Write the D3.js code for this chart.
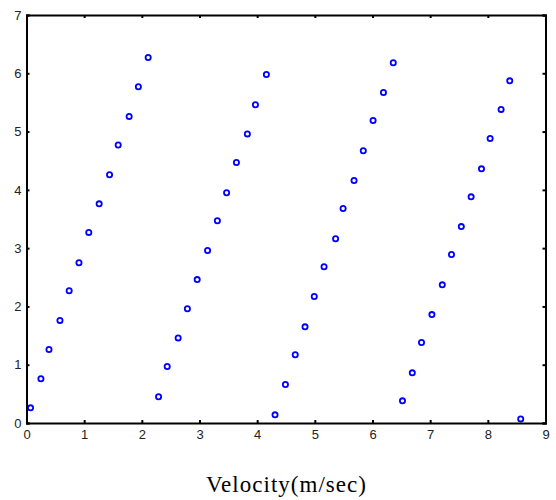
<!DOCTYPE html>
<html><head><meta charset="utf-8">
<script src="https://cdn.jsdelivr.net/npm/d3@7"></script>
<style>body{margin:0;background:#fff}svg{display:block}</style>
</head><body>
<svg id="c" width="556" height="500"></svg>
<script>
const velocity = [
  0.07,0.25,0.39,0.58,0.74,0.91,1.08,1.26,1.44,1.59,1.78,1.94,2.11,
  2.29,2.44,2.63,2.79,2.96,3.14,3.31,3.47,3.64,3.83,3.97,4.16,
  4.31,4.49,4.66,4.83,4.99,5.16,5.36,5.49,5.68,5.84,6.01,6.19,6.36,
  6.52,6.69,6.85,7.03,7.21,7.37,7.54,7.71,7.89,8.04,8.23,8.38,8.57
];
const values = [
  0.26,0.76,1.26,1.76,2.27,2.75,3.27,3.76,4.26,4.77,5.26,5.77,6.27,
  0.45,0.97,1.46,1.96,2.46,2.96,3.47,3.95,4.47,4.96,5.46,5.98,
  0.14,0.66,1.17,1.65,2.17,2.68,3.16,3.68,4.16,4.67,5.19,5.67,6.18,
  0.38,0.86,1.38,1.86,2.37,2.89,3.37,3.88,4.36,4.88,5.38,5.87,0.07
];
const xTicks = [0,1,2,3,4,5,6,7,8,9];
const yTicks = [0,1,2,3,4,5,6,7];
const xLabel = "Velocity(m/sec)";

(function(){
const svg = d3.select("#c");
const L = 26.5, R = 545.5, T = 15, B = 423;
const x = d3.scaleLinear().domain([0,9]).range([L,R]);
const y = d3.scaleLinear().domain([0,7]).range([B,T]);
const font = "'Liberation Sans', Arial, sans-serif";

// markers
svg.append("g").selectAll("circle").data(velocity).join("circle")
  .attr("cx", d => x(d)).attr("cy", (d,i) => y(values[i]))
  .attr("r", 2.6).attr("fill", "none").attr("stroke", "#0000ff").attr("stroke-width", 1.8);

// axes
const tl = 3;
const gBottom = svg.append("g").attr("transform", `translate(0,${B})`)
  .call(d3.axisBottom(x).tickValues(xTicks).tickSize(-tl).tickPadding(7).tickFormat(d3.format("d")));
const gTop = svg.append("g").attr("transform", `translate(0,${T})`)
  .call(d3.axisTop(x).tickValues(xTicks).tickSize(-tl).tickFormat(""));
const gLeft = svg.append("g").attr("transform", `translate(${L},0)`)
  .call(d3.axisLeft(y).tickValues(yTicks).tickSize(-tl).tickPadding(5).tickFormat(d3.format("d")));
const gRight = svg.append("g").attr("transform", `translate(${R},0)`)
  .call(d3.axisRight(y).tickValues(yTicks).tickSize(-tl).tickFormat(""));
[gBottom, gTop, gLeft, gRight].forEach(g => {
  g.select(".domain").attr("stroke", "#000").attr("stroke-width", 2);
  g.selectAll(".tick line").attr("stroke", "#000").attr("stroke-width", 2);
  g.selectAll("text").attr("font-family", font).attr("font-size", 13).attr("fill", "#222");
});

svg.append("text").attr("x", 286).attr("y", 492).attr("text-anchor", "middle")
  .attr("font-family", "'Liberation Serif', 'Times New Roman', serif").attr("font-size", 23)
  .attr("textLength", 160).attr("lengthAdjust", "spacing")
  .text(xLabel);
})();
</script>
</body></html>
